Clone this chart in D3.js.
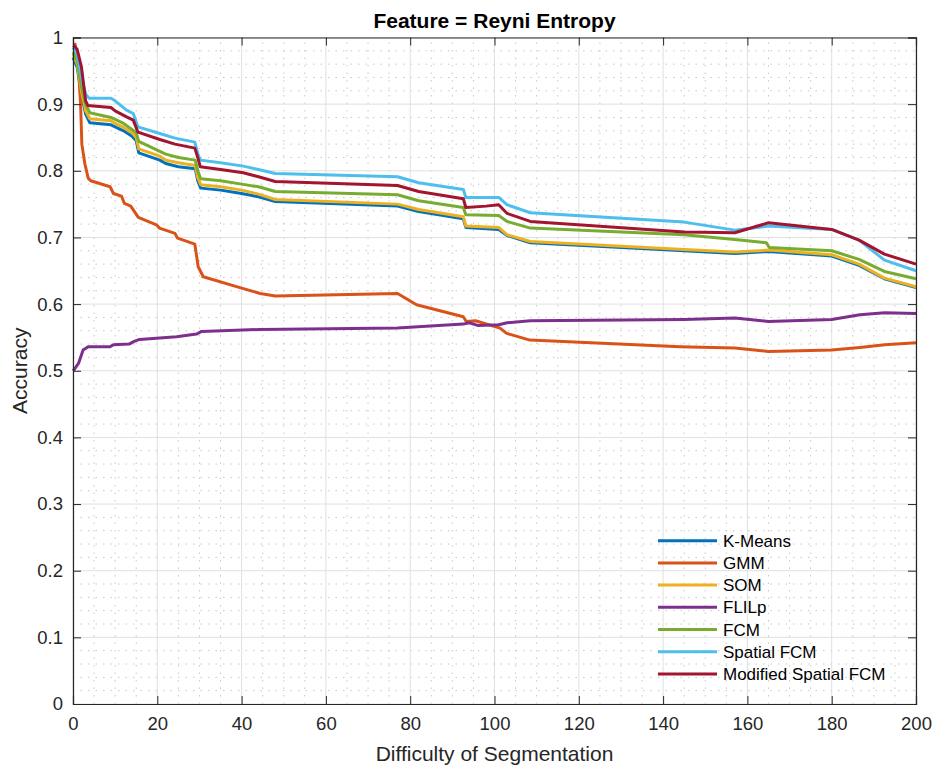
<!DOCTYPE html>
<html>
<head>
<meta charset="utf-8">
<script src="https://cdn.jsdelivr.net/npm/d3@7"></script>
<style>
  body { margin: 0; background: #fff; }
  svg { display: block; font-family: "Liberation Sans", Arial, Helvetica, sans-serif; }
</style>
</head>
<body>
<svg id="chart"></svg>
<script>
const width = 936;
const height = 769;

// --- Data ---
const seriesNames = ["K-Means", "GMM", "SOM", "FLILp", "FCM", "Spatial FCM", "Modified Spatial FCM"];
const seriesColors = ["#0072BD", "#D95319", "#EDB120", "#7E2F8E", "#77AC30", "#4DBEEE", "#A2142F"];

const kmeans = [[0,0.97],[1,0.955],[2,0.915],[3,0.885],[4,0.872],[9,0.869],[10,0.866],[12,0.86],[14,0.852],[15,0.845],[15.6,0.827],[20.6,0.816],[22,0.811],[25,0.806],[29,0.803],[29.6,0.785],[30.3,0.774],[35,0.771],[40,0.766],[44,0.761],[48,0.754],[77,0.747],[82,0.739],[92.6,0.728],[93.2,0.715],[101,0.712],[103,0.703],[108.5,0.692],[145,0.68],[157,0.676],[165,0.679],[180,0.672],[186.5,0.658],[192.5,0.638],[200,0.625]];
const gmm = [[0,0.99],[0.5,0.99],[1.3,0.951],[1.8,0.901],[2.1,0.84],[2.8,0.811],[3.6,0.789],[4.2,0.785],[8.8,0.776],[9.6,0.766],[11.5,0.762],[12.2,0.751],[13.7,0.747],[15.5,0.73],[19.8,0.719],[20.5,0.714],[24.2,0.706],[24.8,0.699],[28.9,0.69],[29.7,0.656],[30.9,0.641],[40,0.624],[44.4,0.616],[48,0.612],[77,0.616],[81.5,0.599],[92.6,0.581],[93.3,0.574],[95.5,0.575],[101.3,0.564],[102.9,0.556],[108.4,0.546],[144,0.536],[157,0.534],[165,0.529],[180,0.531],[186.7,0.535],[192.6,0.539],[200,0.542]];
const som = [[0,0.975],[1,0.96],[2,0.92],[3,0.89],[4,0.878],[9,0.875],[10,0.871],[12,0.865],[14,0.857],[15,0.85],[15.6,0.833],[20.6,0.822],[22,0.816],[25,0.812],[29,0.808],[29.6,0.79],[30.3,0.779],[35,0.776],[40,0.771],[44,0.765],[48,0.757],[77,0.75],[82,0.742],[92.6,0.731],[93.2,0.717],[101,0.715],[103,0.704],[108.5,0.694],[145,0.682],[157,0.678],[165,0.681],[180,0.674],[186.5,0.66],[192.5,0.639],[200,0.626]];
const flilp = [[0,0.5],[0.3,0.502],[1.3,0.511],[2.4,0.531],[3.6,0.536],[8.8,0.536],[9.6,0.539],[13.3,0.54],[14.5,0.544],[15.8,0.547],[24.6,0.551],[29.3,0.555],[30.5,0.559],[44.4,0.562],[77,0.564],[92.6,0.57],[94,0.572],[96,0.568],[101,0.569],[103,0.572],[108.5,0.575],[145,0.577],[157,0.579],[165,0.574],[180,0.577],[186.7,0.584],[192.6,0.587],[200,0.586]];
const fcm = [[0,0.978],[1,0.965],[2,0.926],[3,0.899],[4,0.887],[9,0.88],[10,0.877],[12,0.871],[14,0.862],[15,0.857],[15.6,0.844],[20.6,0.829],[22,0.825],[25,0.82],[29,0.816],[29.6,0.8],[30.3,0.788],[35,0.785],[40,0.78],[44,0.776],[48,0.769],[77,0.764],[82,0.755],[92.6,0.745],[93.2,0.734],[101,0.733],[103,0.724],[108.5,0.714],[145,0.704],[157,0.697],[164.5,0.692],[165.2,0.685],[180,0.68],[186.5,0.667],[192.5,0.649],[200,0.638]];
const spatialFcm = [[0,0.985],[1,0.975],[2,0.941],[3,0.915],[3.8,0.909],[9,0.909],[10,0.905],[12.7,0.891],[14.3,0.886],[15.4,0.866],[20.6,0.856],[24.2,0.849],[28.9,0.843],[29.6,0.826],[30.2,0.816],[35,0.812],[40.4,0.807],[44,0.802],[48,0.796],[77,0.791],[82,0.782],[92.6,0.772],[93.2,0.76],[101,0.76],[103,0.749],[108.5,0.737],[145,0.723],[157,0.711],[165,0.717],[180,0.712],[186.5,0.696],[192.5,0.666],[200,0.65]];
const modSpatialFcm = [[0,0.988],[0.5,0.986],[1,0.982],[2,0.956],[3,0.905],[3.5,0.898],[9,0.895],[10,0.89],[12.7,0.881],[14.3,0.876],[15.4,0.858],[20.6,0.847],[24.2,0.84],[28.9,0.834],[29.6,0.82],[30.2,0.806],[35,0.802],[40.4,0.797],[44,0.791],[48,0.784],[77,0.778],[82,0.769],[92.6,0.758],[93.2,0.745],[98,0.747],[101,0.749],[103,0.736],[108.5,0.724],[145,0.708],[157,0.707],[165,0.722],[180,0.712],[186.5,0.696],[192.5,0.675],[200,0.66]];

const seriesData = [kmeans, gmm, som, flilp, fcm, spatialFcm, modSpatialFcm];

const xTicks = d3.range(0, 201, 20);
const yTicks = d3.range(0, 11).map(d => d / 10);
const xMinor = d3.range(0, 201, 5).filter(d => d % 20 !== 0);
const yMinor = d3.range(0, 51).map(d => d / 50).filter((d, i) => i % 5 !== 0);

// --- Layout ---
const margin = { top: 37.5, right: 20, bottom: 65, left: 73 };
const innerW = width - margin.left - margin.right;
const innerH = height - margin.top - margin.bottom;

const svg = d3.select("#chart")
  .attr("width", width)
  .attr("height", height)
  .attr("viewBox", [0, 0, width, height]);

const x = d3.scaleLinear().domain([0, 200]).range([margin.left, margin.left + innerW]);
const y = d3.scaleLinear().domain([0, 1]).range([margin.top + innerH, margin.top]);

const axisColor = "#262626";

// --- Grid ---
const gGrid = svg.append("g");
gGrid.selectAll(".minor-x")
  .data(xMinor)
  .join("line")
  .attr("x1", d => x(d)).attr("x2", d => x(d))
  .attr("y1", y(0)).attr("y2", y(1))
  .attr("stroke", "#c8c8c8")
  .attr("stroke-width", 1)
  .attr("stroke-dasharray", "1.5,6");
gGrid.selectAll(".minor-y")
  .data(yMinor)
  .join("line")
  .attr("x1", x(0)).attr("x2", x(200))
  .attr("y1", d => y(d)).attr("y2", d => y(d))
  .attr("stroke", "#c8c8c8")
  .attr("stroke-width", 1)
  .attr("stroke-dasharray", "1.5,6");
gGrid.selectAll(".major-x")
  .data(xTicks)
  .join("line")
  .attr("x1", d => x(d)).attr("x2", d => x(d))
  .attr("y1", y(0)).attr("y2", y(1))
  .attr("stroke", "#e0e0e0")
  .attr("stroke-width", 1);
gGrid.selectAll(".major-y")
  .data(yTicks)
  .join("line")
  .attr("x1", x(0)).attr("x2", x(200))
  .attr("y1", d => y(d)).attr("y2", d => y(d))
  .attr("stroke", "#e0e0e0")
  .attr("stroke-width", 1);

// --- Lines ---
const line = d3.line()
  .x(d => x(d[0]))
  .y(d => y(d[1]));

svg.append("g")
  .selectAll("path")
  .data(seriesData)
  .join("path")
  .attr("d", line)
  .attr("fill", "none")
  .attr("stroke", (d, i) => seriesColors[i])
  .attr("stroke-width", 3)
  .attr("stroke-linejoin", "round");

// --- Axes (MATLAB-style box with inward ticks) ---
const tickLen = 8;
const fmt = d => d3.format("~g")(d);

const gAxes = svg.append("g");

gAxes.append("g")
  .attr("transform", `translate(0,${y(0)})`)
  .call(d3.axisBottom(x).tickValues(xTicks).tickSize(-tickLen).tickPadding(13).tickFormat(fmt))
  .call(g => g.selectAll("text").attr("font-size", 18.5).attr("fill", axisColor))
  .call(g => g.selectAll("line, path").attr("stroke", axisColor));

gAxes.append("g")
  .attr("transform", `translate(${x(0)},0)`)
  .call(d3.axisLeft(y).tickValues(yTicks).tickSize(-tickLen).tickPadding(10).tickFormat(fmt))
  .call(g => g.selectAll("text").attr("font-size", 18.5).attr("fill", axisColor))
  .call(g => g.selectAll("line, path").attr("stroke", axisColor));

gAxes.append("g")
  .attr("transform", `translate(0,${y(1)})`)
  .call(d3.axisTop(x).tickValues(xTicks).tickSize(-tickLen).tickFormat(""))
  .call(g => g.selectAll("line, path").attr("stroke", axisColor));

gAxes.append("g")
  .attr("transform", `translate(${x(200)},0)`)
  .call(d3.axisRight(y).tickValues(yTicks).tickSize(-tickLen).tickFormat(""))
  .call(g => g.selectAll("line, path").attr("stroke", axisColor));

svg.selectAll(".domain").attr("stroke-width", 1.2);

// --- Labels ---
svg.append("text")
  .attr("x", (x(0) + x(200)) / 2)
  .attr("y", 28)
  .attr("text-anchor", "middle")
  .attr("font-size", 21)
  .attr("font-weight", "bold")
  .attr("fill", "#000")
  .text("Feature = Reyni Entropy");

svg.append("text")
  .attr("x", (x(0) + x(200)) / 2)
  .attr("y", 761)
  .attr("text-anchor", "middle")
  .attr("font-size", 21)
  .attr("fill", axisColor)
  .text("Difficulty of Segmentation");

svg.append("text")
  .attr("transform", `translate(27,${(y(0) + y(1)) / 2}) rotate(-90)`)
  .attr("text-anchor", "middle")
  .attr("font-size", 21)
  .attr("fill", axisColor)
  .text("Accuracy");

// --- Legend (no box) ---
const gLegend = svg.append("g")
  .attr("transform", "translate(658,540.7)");

const legendRows = gLegend.selectAll("g")
  .data(seriesNames)
  .join("g")
  .attr("transform", (d, i) => `translate(0,${i * 22.2})`);

legendRows.append("line")
  .attr("x1", 0).attr("x2", 59)
  .attr("stroke", (d, i) => seriesColors[i])
  .attr("stroke-width", 3);

legendRows.append("text")
  .attr("x", 65)
  .attr("dy", "0.36em")
  .attr("font-size", 17)
  .attr("fill", "#000")
  .text(d => d);
</script>
</body>
</html>
